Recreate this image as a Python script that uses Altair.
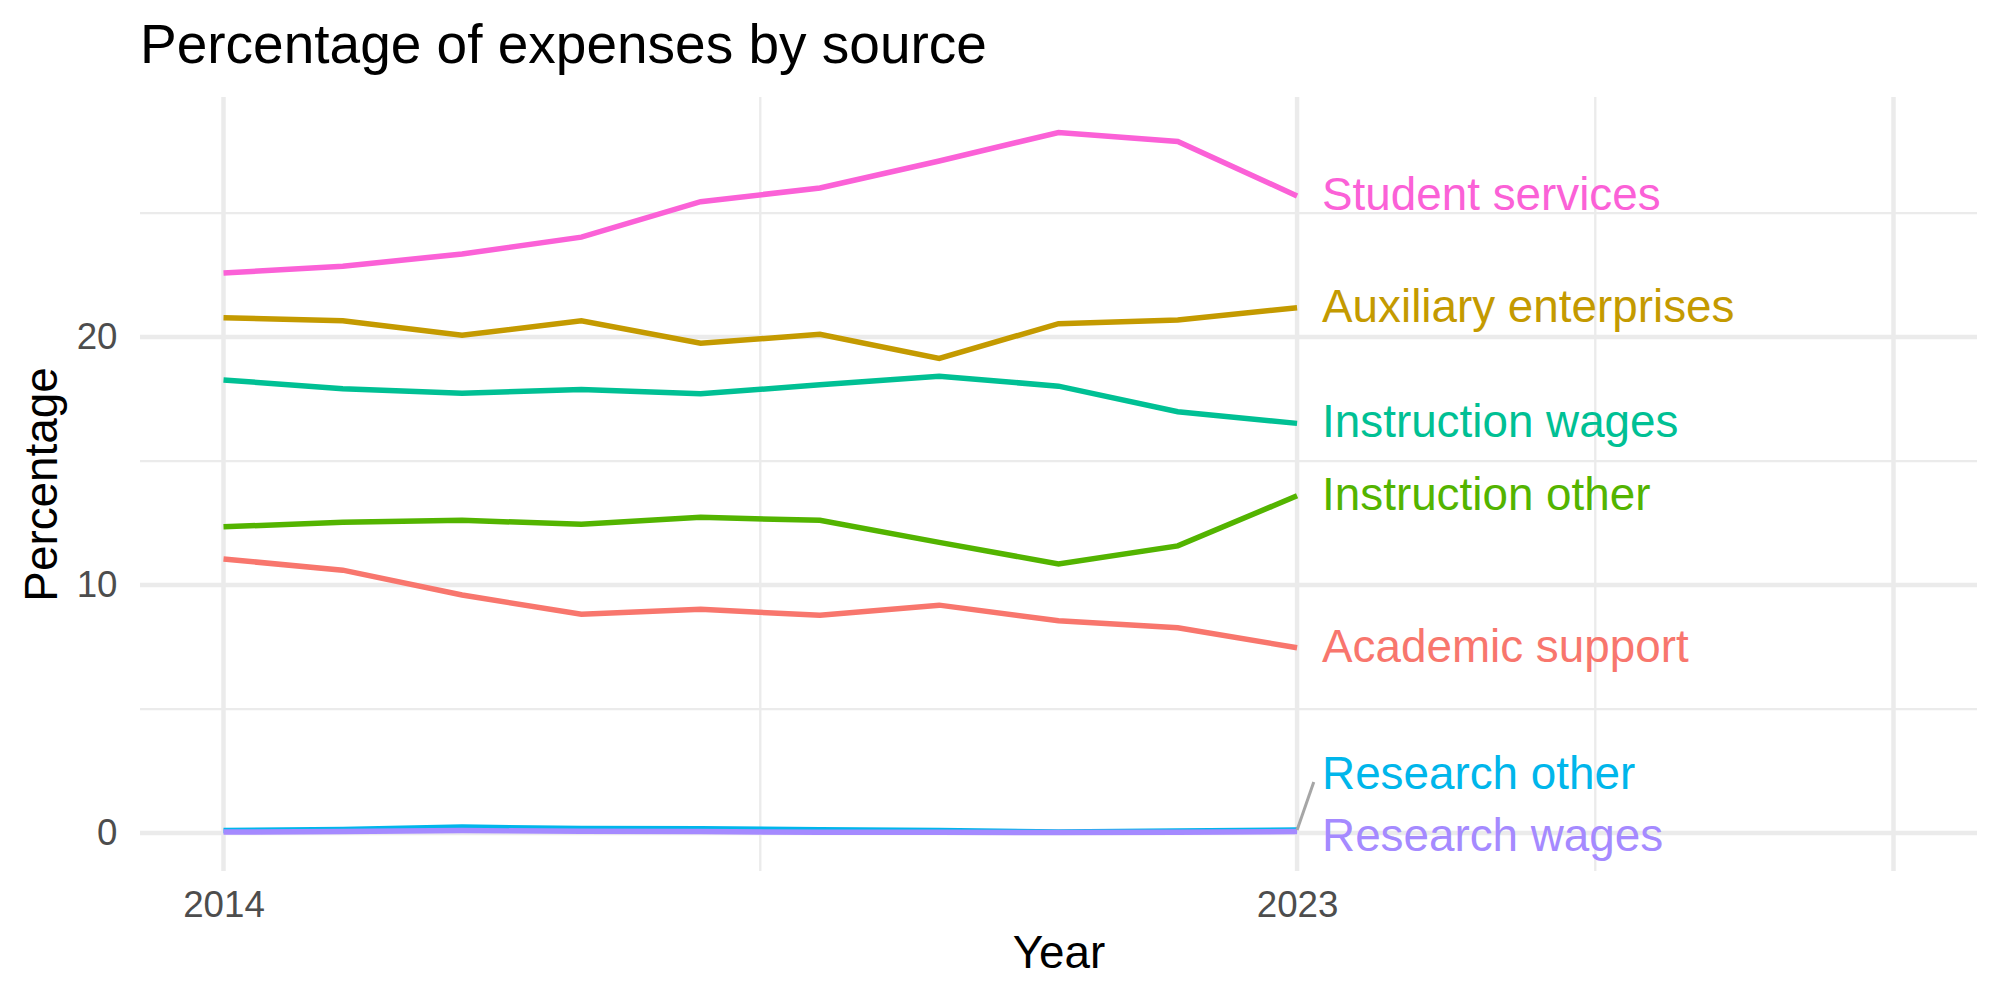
import altair as alt
import pandas as pd

# Share of expenses by source, 2014-2023
years = [2014, 2015, 2016, 2017, 2018, 2019, 2020, 2021, 2022, 2023]
academic_support = [11.05, 10.60, 9.60, 8.82, 9.02, 8.78, 9.19, 8.56, 8.28, 7.47]
auxiliary_enterprises = [20.78, 20.66, 20.07, 20.66, 19.75, 20.11, 19.14, 20.54, 20.69, 21.18]
instruction_other = [12.35, 12.53, 12.61, 12.45, 12.73, 12.61, 11.72, 10.85, 11.58, 13.60]
instruction_wages = [18.27, 17.92, 17.73, 17.89, 17.71, 18.08, 18.42, 18.02, 16.99, 16.52]
research_other = [0.10, 0.14, 0.24, 0.18, 0.17, 0.13, 0.10, 0.04, 0.08, 0.12]
research_wages = [0.04, 0.06, 0.10, 0.07, 0.06, 0.03, 0.03, 0.02, 0.03, 0.06]
student_services = [22.58, 22.86, 23.35, 24.03, 25.46, 26.01, 27.10, 28.25, 27.89, 25.69]

sources = [
    "Academic support", "Auxiliary enterprises", "Instruction other",
    "Instruction wages", "Research other", "Research wages", "Student services",
]
series = [
    academic_support, auxiliary_enterprises, instruction_other,
    instruction_wages, research_other, research_wages, student_services,
]
colors = ["#F8766D", "#C49A00", "#53B400", "#00C094", "#00B6EB", "#A58AFF", "#FB61D7"]

# End labels; the two research labels are nudged apart so they do not overlap
label_y = [7.47, 21.18, 13.60, 16.52, 2.34, -0.16, 25.69]

# Gridline positions
y_major = [0, 10, 20]
y_minor = [5, 15, 25]
x_major = [2014, 2023, 2028]
x_minor = [2018.5, 2025.5]

FONT = "Liberation Sans"
W, H = 1837, 774

long = pd.DataFrame(
    [{"Year": y, "Source": s, "Percentage": v}
     for s, vals in zip(sources, series) for y, v in zip(years, vals)]
)
labels = pd.DataFrame({"Year": [years[-1]] * len(sources), "Source": sources, "Percentage": label_y})
leader = pd.DataFrame({"Year": [years[-1]], "Percentage": [research_other[-1]],
                       "x2": [2023.14], "y2": [2.06]})

xs = alt.Scale(domain=[2013.30, 2028.70], nice=False, zero=False)
ys = alt.Scale(domain=[-1.53, 29.68], nice=False, zero=False)
cs = alt.Scale(domain=sources, range=colors)

x_axis = alt.Axis(
    values=[2014, 2023], format="d", grid=False, ticks=False, tickSize=0,
    domain=False, labelFontSize=36.7, labelColor="#4D4D4D", labelFont=FONT,
    labelBaseline="alphabetic", labelPadding=45,
    titleFont=FONT, titleFontSize=45.8, titleFontWeight="normal",
    titleColor="black", titleBaseline="alphabetic", titleX=W / 2, titleY=96,
    titleAnchor="middle",
)
y_axis = alt.Axis(
    values=[0, 10, 20], grid=False, ticks=False, tickSize=0, domain=False,
    labelFontSize=36.7, labelColor="#4D4D4D", labelFont=FONT, labelPadding=23,
    titleFont=FONT, titleFontSize=45.8, titleFontWeight="normal",
    titleColor="black", titleAngle=-90, titleBaseline="middle",
    titleX=-98, titleY=H / 2, titleAnchor="middle",
)

def X(field):
    return alt.X(field, type="quantitative", scale=xs, axis=x_axis, title="Year")

def Y(field):
    return alt.Y(field, type="quantitative", scale=ys, axis=y_axis, title="Percentage")

grid_color = "#EBEBEB"

def hgrid(vals, width):
    return alt.Chart(pd.DataFrame({"Percentage": vals})).mark_rule(
        color=grid_color, strokeWidth=width
    ).encode(y=Y("Percentage"))

def vgrid(vals, width):
    return alt.Chart(pd.DataFrame({"Year": vals})).mark_rule(
        color=grid_color, strokeWidth=width
    ).encode(x=X("Year"))

lines = alt.Chart(long).mark_line(strokeWidth=5.5, strokeCap="butt").encode(
    x=X("Year"),
    y=Y("Percentage"),
    color=alt.Color("Source:N", scale=cs, legend=None),
    detail="Source:N",
)

segment = alt.Chart(leader).mark_rule(color="#A6A6A6", strokeWidth=3).encode(
    x=X("Year"),
    y=Y("Percentage"),
    x2="x2:Q",
    y2="y2:Q",
)

text = alt.Chart(labels).mark_text(
    align="left", baseline="middle", dx=25, fontSize=45.8, font=FONT
).encode(
    x=X("Year"),
    y=Y("Percentage"),
    text="Source:N",
    color=alt.Color("Source:N", scale=cs, legend=None),
)

chart = alt.layer(
    hgrid(y_minor, 2.3), vgrid(x_minor, 2.3),
    hgrid(y_major, 4.5), vgrid(x_major, 4.5),
    lines, segment, text,
).properties(
    width=W,
    height=H,
    title=alt.TitleParams(
        "Percentage of expenses by source", anchor="start", frame="group",
        font=FONT, fontSize=55, fontWeight="normal", color="black",
        baseline="alphabetic", offset=34, dy=57,
    ),
    background="white",
    autosize=alt.AutoSizeParams(type="none"),
    padding={"left": 140, "top": 97, "right": 23, "bottom": 129},
).configure_view(strokeWidth=0, stroke="transparent")

chart.save("out.html", embed_options={"renderer": "svg", "actions": False})
